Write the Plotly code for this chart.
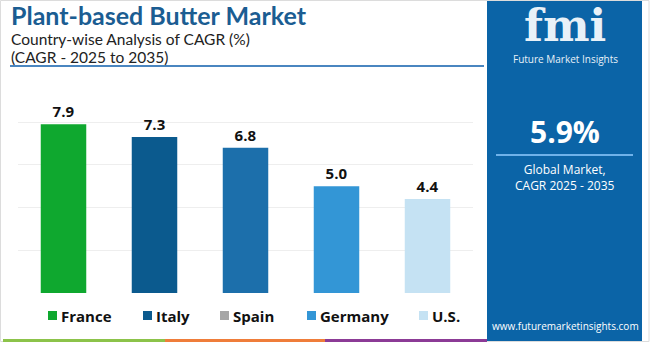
import plotly.graph_objects as go

# ---- data ----
countries = ["France", "Italy", "Spain", "Germany", "U.S."]
cagr = [7.9, 7.3, 6.8, 5.0, 4.4]
bar_colors = ["#0fa82f", "#0b5a8e", "#1c6fab", "#3396d6", "#c5e2f3"]
legend_colors = ["#0fa82f", "#0b5a8e", "#a6a6a6", "#3396d6", "#c5e2f3"]
title = "Plant-based Butter Market"
subtitle1 = "Country-wise Analysis of CAGR (%)"
subtitle2 = "(CAGR - 2025 to 2035)"
global_cagr = "5.9%"

W, H = 650, 342
L, R, T, B = 18, 177, 90, 49
PW, PH = W - L - R, H - T - B


def fx(x):
    return (x - L) / PW


def fy(y):
    return (H - B - y) / PH


FONT = "Open Sans"
TFONT = "Lato"
fig = go.Figure()
for c, v, col in zip(countries, cagr, bar_colors):
    fig.add_trace(go.Bar(
        x=[c], y=[v], marker=dict(color=col, line=dict(width=0)),
        text=[f"{v:.1f}"], textposition="outside", cliponaxis=False,
        textfont=dict(family=FONT, size=15, color="#111111", weight="bold"),
        showlegend=False, hoverinfo="skip"))

shapes = []
annotations = []


def ann(text, x, y, size, color, family=FONT, xanchor="left"):
    annotations.append(dict(text=text, xref="paper", yref="paper", x=x, y=y,
                            xanchor=xanchor, yanchor="middle", showarrow=False,
                            borderpad=0, borderwidth=0, align=xanchor,
                            font=dict(family=family, size=size, color=color)))


# title underline
shapes.append(dict(type="line", xref="paper", yref="paper", x0=fx(10), x1=fx(484),
                   y0=fy(66), y1=fy(66), line=dict(color="#4a86c0", width=2)))
# right panel
shapes.append(dict(type="rect", xref="paper", yref="paper", x0=fx(487), x1=fx(642),
                   y0=fy(342), y1=fy(1), fillcolor="#0b64a7", line=dict(width=0), layer="below"))
# panel divider
shapes.append(dict(type="line", xref="paper", yref="paper", x0=fx(496), x1=fx(633),
                   y0=fy(155), y1=fy(155), line=dict(color="#6fb2ea", width=2)))
# bottom strip
for x0, x1, col in [(3, 165, "#8cc34a"), (165, 325, "#ef7d3a"), (325, 487, "#8c3b96")]:
    shapes.append(dict(type="rect", xref="paper", yref="paper", x0=fx(x0), x1=fx(x1),
                       y0=fy(342), y1=fy(339), fillcolor=col, line=dict(width=0)))
# outer border
shapes.append(dict(type="rect", xref="paper", yref="paper", x0=fx(0.5), x1=fx(649),
                   y0=fy(341.5), y1=fy(0.5), line=dict(color="#dcdcdc", width=1), layer="below"))

# custom legend
leg_x = [48, 143, 220, 307, 419]
for name, col, lx in zip(countries, legend_colors, leg_x):
    shapes.append(dict(type="rect", xref="paper", yref="paper", x0=fx(lx), x1=fx(lx + 9),
                       y0=fy(320), y1=fy(311), fillcolor=col, line=dict(width=0)))
    ann(f"<b>{name}</b>", fx(lx + 13), fy(315.5), 15, "#111111")

# titles
ann(f"<b>{title}</b>", fx(11), fy(15.2), 25, "#1b5d92", family=TFONT)
ann(subtitle1, fx(11), fy(39.2), 15.5, "#222222", family=TFONT)
ann(subtitle2, fx(11), fy(57.2), 15.5, "#222222", family=TFONT)

# panel texts
cx = fx(565)
ann("<b>fmi</b>", cx, fy(25), 44, "#e8f1f8", family="DejaVu Serif", xanchor="center")
ann("Future Market Insights", cx, fy(59), 10, "#e8f1f8", xanchor="center")
ann(f"<b>{global_cagr}</b>", cx, fy(131), 30, "#ffffff", xanchor="center")
ann("Global Market,<br>CAGR 2025 - 2035", cx, fy(177.5), 12, "#ffffff", xanchor="center")
ann("www.futuremarketinsights.com", cx, fy(326), 10, "#ffffff", xanchor="center")

fig.update_layout(
    width=W, height=H, margin=dict(l=L, r=R, t=T, b=B, autoexpand=False),
    paper_bgcolor="white", plot_bgcolor="white", bargap=0.5,
    shapes=shapes, annotations=annotations, showlegend=False,
    xaxis=dict(showticklabels=False, showgrid=False, zeroline=False, showline=False, fixedrange=True),
    yaxis=dict(range=[0, 9.5], tickvals=[0, 2, 4, 6, 8], showticklabels=False, showgrid=True,
               gridcolor="#eeeeee", gridwidth=1, zeroline=False, showline=False),
)
fig.write_html("out.html", config={"displayModeBar": False})
